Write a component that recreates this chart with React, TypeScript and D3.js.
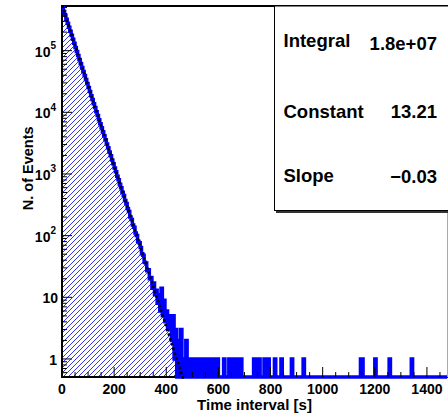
import React from "react";
import * as d3 from "d3";

// histogram: 5 s bins starting at 0, counts
const binWidth = 5;
const headCounts = [
  506300, 435900, 375000, 322700, 277900, 239300, 205800, 177100, 152600, 131300,
  112900, 97300, 83600, 72100, 61950, 53400, 45900, 39560, 34000, 29310,
  25180, 21720, 18650, 16100, 13820, 11930, 10240, 8840, 7580, 6550,
  5610, 4850, 4150, 3600, 3070, 2670, 2280, 1980, 1690, 1470,
  1250, 1090, 920, 810, 680, 600, 505, 446, 371, 331,
  276, 246, 201, 183, 149, 137, 110, 101, 81, 77,
  64, 51, 48, 37, 36, 27, 28, 20, 21, 14,
  17, 11, 13, 8, 11, 6, 14, 5, 9, 4,
  6, 3, 5, 4, 2, 5, 1, 3, 0, 2,
  0, 3, 0, 1, 0, 2, 0, 1, 0, 1,
  0, 1, 0, 1, 0, 1, 0, 1,
];
// lone entries in the tail (lower bin edge, one event each)
const tailEvents = [
  545, 560, 565, 580, 595, 620, 640, 650, 660, 675, 685, 735, 745, 755,
  775, 790, 815, 840, 880, 925, 1145, 1150, 1200, 1255, 1340,
];

const xMax = 1477;
const yMin = 0.51;
const yMax = 5.3e5;
const xTickLabels = [0, 200, 400, 600, 800, 1000, 1200, 1400];
const yDecades = [0, 1, 2, 3, 4, 5];

const fitConstant = 13.21;
const fitSlope = -0.03;
const statLabels = ["Integral", "Constant", "Slope"];
const statValues = ["1.8e+07", "13.21", "\u22120.03"];

const W = 448;
const H = 414;
const left = 62;
const right = 447;
const top = 6;
const bottom = 377;
const font = "'Liberation Sans', Arial, Helvetica, sans-serif";

export default function App() {
  const x = d3.scaleLinear().domain([0, xMax]).range([left, right]);
  const y = d3.scaleLog().domain([yMin, yMax]).range([bottom, top]);

  const nBins = Math.ceil(xMax / binWidth);
  const counts = d3.range(nBins).map((i) => (i < headCounts.length ? headCounts[i] : 0));
  tailEvents.forEach((t) => {
    counts[Math.floor(t / binWidth)] += 1;
  });
  const pts: [number, number][] = counts.map((c, i) => [i * binWidth, c]);
  pts.push([nBins * binWidth, counts[nBins - 1]]);

  const yv = (c: number) => (c > 0 ? y(c) : bottom);
  const line = d3
    .line<[number, number]>()
    .x((d) => x(d[0]))
    .y((d) => yv(d[1]))
    .curve(d3.curveStepAfter);
  const area = d3
    .area<[number, number]>()
    .x((d) => x(d[0]))
    .y0(bottom)
    .y1((d) => yv(d[1]))
    .curve(d3.curveStepAfter);

  const fitPts: [number, number][] = d3
    .range(0, 500, 4)
    .map((t) => [t, Math.exp(fitConstant + fitSlope * t)]);
  const fitLine = d3
    .line<[number, number]>()
    .x((d) => x(d[0]))
    .y((d) => y(d[1]));

  const xMinor = d3.range(0, xMax, 50);
  const yMinor: number[] = [];
  for (let k = -1; k <= 5; k++) {
    for (let m = 2; m <= 9; m++) {
      const v = m * Math.pow(10, k);
      if (v >= yMin && v <= yMax) yMinor.push(v);
    }
  }

  const rowY = [47, 117.5, 182];
  const valY = [50, 117.5, 183];

  return (
    <svg
      width={W}
      height={H}
      style={{ position: "absolute", left: 0, top: 0, background: "#fff" }}
      fontFamily={font}
      fontWeight="bold"
    >
      <defs>
        <clipPath id="frame">
          <rect x={left} y={top} width={right - left} height={bottom - top + 3} />
        </clipPath>
        <pattern id="hatch" width={5} height={5} patternUnits="userSpaceOnUse">
          <path d="M-1,1 L1,-1 M0,5 L5,0 M4,6 L6,4" stroke="#0000ff" strokeWidth={0.8} />
        </pattern>
      </defs>
      <rect width={W} height={H} fill="#fff" />

      <g clipPath="url(#frame)">
        <path d={area(pts) ?? ""} fill="url(#hatch)" />
      </g>

      {/* frame */}
      <line x1={left} x2={left} y1={top - 1} y2={bottom + 1} stroke="#000" strokeWidth={2} />
      <line x1={left - 1} x2={W} y1={top} y2={top} stroke="#000" strokeWidth={2} />
      <line x1={left} x2={W} y1={bottom} y2={bottom} stroke="#000" strokeWidth={2} />
      <line x1={right + 0.5} x2={right + 0.5} y1={top} y2={bottom} stroke="#aaa" strokeWidth={1} />

      <g clipPath="url(#frame)">
        <path d={line(pts) ?? ""} fill="none" stroke="#0000ff" strokeWidth={3.5} />
        <path
          d={fitLine(fitPts) ?? ""}
          fill="none"
          stroke="#000"
          strokeWidth={2.5}
          strokeDasharray="2.5 2.5"
        />
      </g>

      {/* x ticks */}
      {xMinor.map((v) => (
        <line
          key={"xt" + v}
          x1={x(v)}
          x2={x(v)}
          y1={bottom}
          y2={bottom - (v % 200 === 0 ? 10 : 5)}
          stroke="#000"
          strokeWidth={1}
        />
      ))}
      {xTickLabels.map((v) => (
        <text key={"xl" + v} x={x(v)} y={393.5} textAnchor="middle" fontSize={14}>
          {v}
        </text>
      ))}
      <text x={(left + right) / 2} y={410} textAnchor="middle" fontSize={15}>
        Time interval [s]
      </text>

      {/* y ticks */}
      {yMinor.map((v) => (
        <line key={"ym" + v} x1={left} x2={left + 5} y1={y(v)} y2={y(v)} stroke="#000" strokeWidth={1} />
      ))}
      {yDecades.map((k) => (
        <line
          key={"yM" + k}
          x1={left}
          x2={left + 10}
          y1={y(Math.pow(10, k))}
          y2={y(Math.pow(10, k))}
          stroke="#000"
          strokeWidth={1}
        />
      ))}
      {yDecades.map((k) => {
        const yy = y(Math.pow(10, k)) + 6;
        if (k === 0)
          return (
            <text key={"yl" + k} x={57} y={yy} textAnchor="end" fontSize={14}>
              1
            </text>
          );
        if (k === 1)
          return (
            <text key={"yl" + k} x={58} y={yy} textAnchor="end" fontSize={14}>
              10
            </text>
          );
        return (
          <text key={"yl" + k} x={56} y={yy} textAnchor="end" fontSize={14}>
            10
            <tspan dy={-7.5} fontSize={10}>
              {k}
            </tspan>
          </text>
        );
      })}
      <text
        transform={`translate(33.3,168.3) rotate(-90)`}
        textAnchor="middle"
        fontSize={14.5}
      >
        N. of Events
      </text>

      {/* stats box */}
      <rect x={276} y={8} width={180} height={205} fill="#333" />
      <rect x={274.5} y={6} width={180} height={204.5} fill="#fff" stroke="#000" strokeWidth={1} />
      {statLabels.map((s, i) => (
        <text key={s} x={283.5} y={rowY[i]} fontSize={18.5}>
          {s}
        </text>
      ))}
      {statValues.map((s, i) => (
        <text key={"v" + i} x={437} y={valY[i]} textAnchor="end" fontSize={18.5}>
          {s}
        </text>
      ))}
    </svg>
  );
}
